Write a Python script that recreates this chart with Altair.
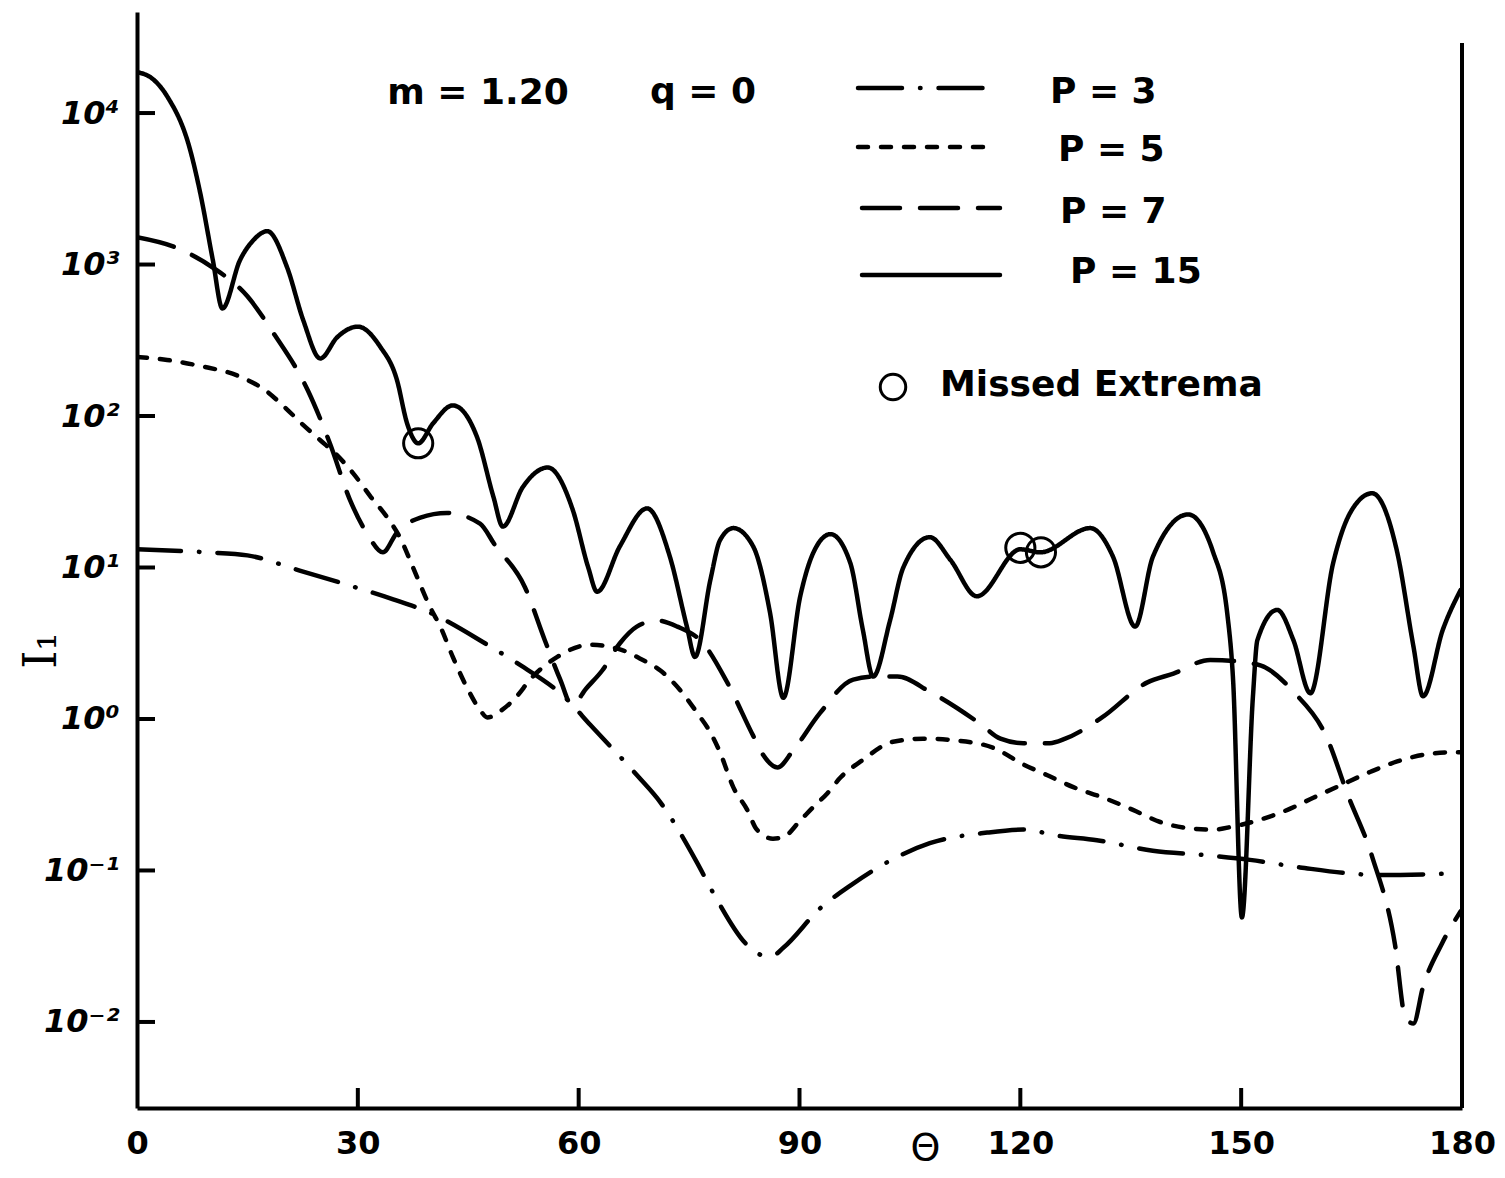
import altair as alt
import pandas as pd
import numpy as np

# ---------------- data ----------------
series_names = ["P = 3", "P = 5", "P = 7", "P = 15"]

theta_p3 = [0, 9.5, 15.0, 22.1, 27.6, 34.8, 39.4, 47.6, 51.6, 58.4, 61.6, 67.9, 71.1,
            76.1, 78.3, 83.3, 85.1, 86.4, 87.8, 92.8, 96.9, 103.3, 107.7, 115.5, 120.4,
            125.0, 130.4, 138.0, 145.4, 151.2, 158.0, 168.9, 178.8]
log10_I_p3 = [1.12, 1.10, 1.08, 0.98, 0.90, 0.79, 0.71, 0.49, 0.37, 0.13, -0.04, -0.37, -0.55,
              -0.95, -1.15, -1.51, -1.56, -1.56, -1.51, -1.25, -1.10, -0.91, -0.82, -0.75, -0.73,
              -0.77, -0.80, -0.87, -0.90, -0.93, -0.98, -1.03, -1.02]

theta_p5 = [0, 4.1, 8.6, 14.0, 17.7, 19.8, 22.6, 24.9, 27.2, 29.4, 31.7, 34.0, 35.7, 37.5,
            39.8, 41.2, 42.9, 44.8, 46.6, 47.6, 49.6, 51.6, 53.4, 57.1, 61.6, 65.6, 68.3,
            71.1, 73.8, 76.1, 77.9, 79.2, 81.0, 82.9, 84.2, 86.4, 87.8, 90.1, 91.9, 93.8,
            95.5, 98.6, 102.7, 106.8, 110.9, 116.3, 120.4, 123.6, 127.2, 131.3, 135.3, 139.0,
            142.7, 146.2, 148.9, 152.2, 156.3, 159.8, 163.4, 167.5, 171.2, 173.4, 178.4, 179.8]
log10_I_p5 = [2.39, 2.37, 2.33, 2.26, 2.16, 2.07, 1.94, 1.84, 1.74, 1.62, 1.47, 1.33, 1.20, 1.00,
              0.74, 0.61, 0.41, 0.21, 0.06, 0.01, 0.06, 0.15, 0.26, 0.41, 0.49, 0.46, 0.40,
              0.32, 0.19, 0.04, -0.09, -0.22, -0.45, -0.60, -0.73, -0.79, -0.78, -0.67, -0.58, -0.49,
              -0.39, -0.27, -0.15, -0.13, -0.14, -0.19, -0.30, -0.37, -0.45, -0.52, -0.60, -0.68,
              -0.72, -0.73, -0.71, -0.67, -0.60, -0.52, -0.44, -0.35, -0.28, -0.25, -0.22, -0.22]

theta_p7 = [0, 5.4, 10.3, 15.0, 18.5, 23.2, 26.2, 28.9, 31.3, 33.4, 35.3, 38.5, 42.1, 46.6,
            48.6, 52.7, 55.4, 57.5, 59.1, 61.0, 63.2, 65.6, 67.9, 70.7, 73.4, 76.9, 80.2,
            83.7, 85.1, 87.0, 89.1, 92.8, 97.3, 100.5, 103.3, 107.7, 114.5, 117.3, 120.4,
            124.0, 126.1, 131.1, 137.2, 140.8, 145.8, 152.2, 157.1, 161.7, 164.4, 167.8,
            170.9, 172.3, 173.4, 174.7, 177.3, 179.8]
log10_I_p7 = [3.18, 3.11, 2.98, 2.79, 2.55, 2.17, 1.82, 1.45, 1.22, 1.10, 1.23, 1.33, 1.36, 1.29,
              1.15, 0.87, 0.52, 0.26, 0.09, 0.20, 0.32, 0.50, 0.61, 0.65, 0.61, 0.50, 0.24,
              -0.11, -0.24, -0.32, -0.21, 0.04, 0.26, 0.28, 0.28, 0.18, -0.03, -0.13, -0.16,
              -0.16, -0.13, 0.01, 0.24, 0.30, 0.39, 0.36, 0.18, -0.13, -0.49, -0.91,
              -1.49, -1.97, -2.01, -1.77, -1.48, -1.27]

theta_p15 = [0, 2.0, 4.1, 7.2, 8.6, 10.3, 11.6, 14.0, 15.8, 17.7, 20.4, 22.6, 24.9, 27.2, 30.0,
             33.0, 35.3, 36.7, 38.2, 40.2, 42.9, 46.2, 48.4, 49.7, 52.4, 55.8, 59.2, 61.3, 62.5,
             65.6, 69.3, 72.4, 74.7, 75.8, 77.9, 79.2, 81.0, 83.7, 86.0, 87.8, 90.1, 91.9, 94.2,
             96.9, 98.6, 100.0, 102.3, 104.1, 107.7, 110.5, 114.1, 120.0, 122.7, 129.5, 132.6,
             135.6, 138.0, 142.8, 146.2, 148.1, 148.9, 150.1, 151.6, 152.2, 154.9, 157.1, 159.4,
             162.5, 164.8, 167.8, 171.2, 173.4, 174.7, 177.4, 179.8]
log10_I_p15 = [4.27, 4.23, 4.11, 3.76, 3.47, 3.03, 2.71, 3.03, 3.16, 3.22, 2.98, 2.63, 2.38, 2.52, 2.59,
               2.46, 2.24, 1.95, 1.82, 1.95, 2.07, 1.86, 1.47, 1.27, 1.53, 1.66, 1.38, 1.00, 0.84,
               1.14, 1.39, 1.07, 0.61, 0.41, 0.92, 1.18, 1.26, 1.14, 0.70, 0.14, 0.81, 1.10, 1.22,
               1.03, 0.59, 0.28, 0.65, 1.00, 1.20, 1.05, 0.81, 1.12, 1.10, 1.26, 1.07,
               0.61, 1.07, 1.35, 1.10, 0.70, 0.26, -1.31, 0.15, 0.52, 0.72, 0.52, 0.17,
               1.03, 1.36, 1.49, 1.10, 0.48, 0.15, 0.59, 0.85]

theta_missed = [38.2, 120.0, 122.8]
log10_I_missed = [1.82, 1.13, 1.10]

x_tick_values = [0, 30, 60, 90, 120, 150, 180]
x_inner_ticks = [30, 60, 90, 120, 150]
y_tick_values = [0.01, 0.1, 1, 10, 100, 1000, 10000]
y_tick_labels = ["10⁻²", "10⁻¹", "10⁰", "10¹", "10²", "10³", "10⁴"]

annotations = ["m = 1.20", "q = 0"]
missed_label = "Missed Extrema"

# ---------------- build tables ----------------
rows = []
for name, th, lg in [("P = 3", theta_p3, log10_I_p3), ("P = 5", theta_p5, log10_I_p5),
                     ("P = 7", theta_p7, log10_I_p7), ("P = 15", theta_p15, log10_I_p15)]:
    for t, l in zip(th, lg):
        rows.append({"theta": t, "I": 10 ** l, "series": name})
df = pd.DataFrame(rows)
df_missed = pd.DataFrame({"theta": theta_missed, "I": [10 ** v for v in log10_I_missed]})

W, H = 1325, 1096
FONT = "DejaVu Sans"

x_scale = alt.Scale(domain=[0, 180], nice=False, zero=False)
y_scale = alt.Scale(type="log", domain=[10 ** -2.568, 10 ** 4.667], nice=False)
dash_scale = alt.Scale(domain=series_names,
                       range=[[44, 18, 0.5, 18], [10, 13], [38, 20], [1, 0]])

label_expr = "[" + ",".join("'" + s + "'" for s in y_tick_labels) + "][round(log(datum.value)/LN10)+2]"

x_axis = alt.Axis(
    values=x_tick_values, title="Θ", ticks=False, grid=False, labelFlush=False,
    domainColor="black", domainWidth=4, labelFont=FONT, labelFontSize=32,
    labelFontWeight="bold", labelColor="black", labelPadding=20,
    titleFont=FONT, titleFontSize=38, titleFontWeight="normal", titleColor="black",
    titleX=788, titleY=40, titleAlign="center", titleBaseline="middle")
y_axis = alt.Axis(
    values=y_tick_values, labelExpr=label_expr, title="I₁", ticks=False, grid=False,
    domainColor="black", domainWidth=4, labelFont=FONT, labelFontSize=32,
    labelFontWeight="bold", labelColor="black", labelPadding=18,
    labelFontStyle="italic",
    titleFont="DejaVu Serif", titleFontSize=46, titleFontWeight="normal", titleColor="black",
    titleAngle=-90, titleX=-96, titleY=638, titleAlign="center", titleBaseline="middle")


def X(field="theta"):
    return alt.X(field + ":Q", scale=x_scale, axis=x_axis, title="Θ")


def Y(field="I"):
    return alt.Y(field + ":Q", scale=y_scale, axis=y_axis, title="I₁")


curves = alt.Chart(df).mark_line(
    color="black", strokeWidth=4.5, strokeCap="round", strokeJoin="round",
    interpolate="monotone", clip=True
).encode(
    x=X(), y=Y(),
    strokeDash=alt.StrokeDash("series:N", scale=dash_scale, legend=None),
    detail="series:N",
)

ytick = alt.Chart(pd.DataFrame({"I": y_tick_values})).mark_rule(
    color="black", strokeWidth=4).encode(y=Y(), x=alt.value(0), x2=alt.value(18))

xtick = alt.Chart(pd.DataFrame({"theta": x_inner_ticks})).mark_rule(
    color="black", strokeWidth=4).encode(x=X(), y=alt.value(H), y2=alt.value(H - 20))

right_edge = alt.Chart(pd.DataFrame({"theta": [180]})).mark_rule(
    color="black", strokeWidth=4).encode(x=X(), y=alt.value(31), y2=alt.value(H))

missed = alt.Chart(df_missed).mark_point(
    shape="circle", filled=False, color="black", opacity=1, size=850, strokeWidth=3).encode(
    x=X(), y=Y())

layers = [curves, ytick, xtick, right_edge, missed]

# text annotations
ann_pos = [(341, 81), (566, 80)]
for txt, (px, py) in zip(annotations, ann_pos):
    layers.append(alt.Chart(pd.DataFrame({"label": [txt]})).mark_text(
        font=FONT, fontSize=36, fontWeight="bold", color="black", align="center",
        baseline="middle").encode(text="label:N", x=alt.value(px), y=alt.value(py)))

# legend (drawn by hand, like the original)
leg_line = [(721, 856, 76), (721, 853, 135), (725, 863, 196), (725, 863, 263)]
leg_text = [(913, 80), (921, 138), (923, 200), (933, 260)]
for name, (x1, x2, ly), (tx, ty) in zip(series_names, leg_line, leg_text):
    d = pd.DataFrame({"series": [name]})
    layers.append(alt.Chart(d).mark_rule(
        color="black", strokeWidth=4.5, strokeCap="round").encode(
        x=alt.value(x1), x2=alt.value(x2), y=alt.value(ly),
        strokeDash=alt.StrokeDash("series:N", scale=dash_scale, legend=None)))
    layers.append(alt.Chart(d).mark_text(
        font=FONT, fontSize=36, fontWeight="bold", color="black", align="left",
        baseline="middle").encode(text="series:N", x=alt.value(tx), y=alt.value(ty)))

layers.append(alt.Chart(pd.DataFrame({"label": [missed_label]})).mark_point(
    shape="circle", filled=False, color="black", opacity=1, size=650, strokeWidth=3).encode(
    x=alt.value(756), y=alt.value(375)))
layers.append(alt.Chart(pd.DataFrame({"label": [missed_label]})).mark_text(
    font=FONT, fontSize=36, fontWeight="bold", color="black", align="left",
    baseline="middle").encode(text="label:N", x=alt.value(803), y=alt.value(373)))

chart = alt.layer(*layers).properties(
    width=W, height=H,
    padding={"left": 129, "top": 4, "right": 35, "bottom": 62},
    autosize=alt.AutoSizeParams(type="none"),
    background="white",
).configure_view(strokeWidth=0, stroke="transparent")

chart.save("out.html", embed_options={"renderer": "svg", "actions": False})
